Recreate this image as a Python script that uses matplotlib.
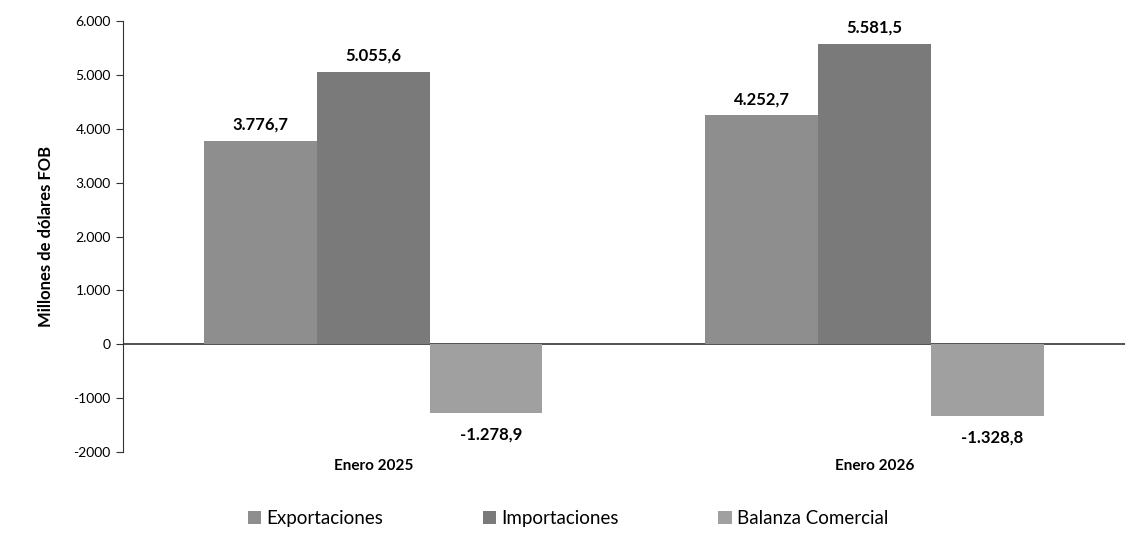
import matplotlib
matplotlib.use("Agg")
import matplotlib.pyplot as plt
import numpy as np

categories = ["Enero 2025", "Enero 2026"]
series_names = ["Exportaciones", "Importaciones", "Balanza Comercial"]
exportaciones = [3776.7, 4252.7]
importaciones = [5055.6, 5581.5]
balanza = [-1278.9, -1328.8]
value_labels = [["3.776,7", "4.252,7"], ["5.055,6", "5.581,5"], ["-1.278,9", "-1.328,8"]]
yticks = [-2000, -1000, 0, 1000, 2000, 3000, 4000, 5000, 6000]
ytick_labels = ["-2000", "-1000", "0", "1.000", "2.000", "3.000", "4.000", "5.000", "6.000"]

colors = ["#8e8e8e", "#7a7a7a", "#a0a0a0"]
plt.rcParams['font.family'] = ['Lato', 'DejaVu Sans']

fig = plt.figure(figsize=(11.25, 5.44), dpi=100)
ax = fig.add_axes([0.109, 0.169, 0.891, 0.792])

x = np.arange(len(categories))
w = 0.225
data = [exportaciones, importaciones, balanza]
for i, (vals, name, c) in enumerate(zip(data, series_names, colors)):
    pos = x + (i - 1) * w
    bars = ax.bar(pos, vals, width=w, color=c, label=name, edgecolor='none')
    for b, v, lab in zip(bars, vals, value_labels[i]):
        if v >= 0:
            ax.text(b.get_x() + b.get_width() / 2, v + 150, lab, ha='center', va='bottom',
                    fontsize=12, fontweight='bold')
        else:
            ax.text(b.get_x() + b.get_width() / 2 + 0.01, v - 250, lab, ha='center', va='top',
                    fontsize=12, fontweight='bold')

ax.axhline(0, color='#333333', lw=1.2, zorder=0)
ax.set_xlim(-0.5, 1.5)
ax.set_ylim(-2000, 6000)
ax.set_yticks(yticks)
ax.set_yticklabels(ytick_labels, fontsize=10)
ax.set_xticks(x)
ax.set_xticklabels(categories, fontsize=11, fontweight='bold')
ax.tick_params(axis='x', length=0, pad=5)
ax.tick_params(axis='y', length=5, direction='out', color='#333333')
for s in ['top', 'right', 'bottom']:
    ax.spines[s].set_visible(False)
ax.spines['left'].set_color('#333333')
ax.set_ylabel("Millones de dólares FOB", fontsize=12, fontweight='bold', labelpad=14)

fig.legend(loc='lower center', bbox_to_anchor=(0.505, 0.0), ncol=3, frameon=False,
           fontsize=13.5, handlelength=0.7, handleheight=0.7, columnspacing=5.3, handletextpad=0.3)

fig.savefig("out.png", dpi=100)
